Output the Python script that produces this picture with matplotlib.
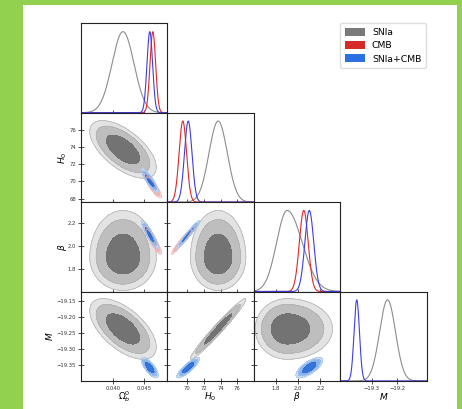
import numpy as np
import matplotlib.pyplot as plt
from matplotlib.patches import Rectangle, Patch

# parameters: Omega_b^0, H0, beta, M
labels = [r'$\Omega_b^0$', r'$H_0$', r'$\beta$', r'$M$']
pairs = [(0, 1), (0, 2), (0, 3), (1, 2), (1, 3), (2, 3)]

# SNIa (beta is skewed: lower / upper widths)
snia_mean = [0.0416, 73.70, 1.90, -19.238]
snia_lo = [0.0018, 1.10, 0.095, 0.031]
snia_hi = [0.0018, 1.10, 0.135, 0.031]
snia_rho = [-0.62, 0.0, -0.60, 0.0, 0.975, 0.0]

# CMB (no constraint on M)
cmb_mean = [0.0465, 69.45, 2.05, None]
cmb_sigma = [0.00046, 0.45, 0.040, None]
cmb_rho = [-0.88, -0.90, None, 0.97, None, None]

# SNIa+CMB
both_mean = [0.0460, 70.10, 2.10, -19.358]
both_sigma = [0.00046, 0.45, 0.040, 0.0105]
both_rho = [-0.88, -0.90, -0.75, 0.97, 0.86, 0.72]

names = ['SNIa', 'CMB', 'SNIa+CMB']

# axis ranges and ticks
col_lims = [(0.0347, 0.0489), (67.6, 78.0), (1.60, 2.38), (-19.422, -19.085)]
row_lims = [None, (67.6, 77.95), (1.603, 2.383), (-19.399, -19.122)]
col_ticks = [[0.040, 0.045], [70, 72, 74, 76], [1.8, 2.0, 2.2], [-19.3, -19.2]]
col_ticklabels = [['0.040', '0.045'], ['70', '72', '74', '76'],
                  ['1.8', '2.0', '2.2'], ['\u221219.3', '\u221219.2']]
row_ticks = [None, [68, 70, 72, 74, 76], [1.8, 2.0, 2.2],
             [-19.35, -19.30, -19.25, -19.20, -19.15]]
row_ticklabels = [None, ['68', '70', '72', '74', '76'], ['1.8', '2.0', '2.2'],
                  ['\u221219.35', '\u221219.30', '\u221219.25', '\u221219.20', '\u221219.15']]


def dens1d(x, m, lo, hi):
    s = np.where(x < m, lo, hi)
    return np.exp(-0.5 * ((x - m) / s) ** 2)


def dens2d(X, Y, mx, sxl, sxh, my, syl, syh, rho):
    u = (X - mx) / np.where(X < mx, sxl, sxh)
    v = (Y - my) / np.where(Y < my, syl, syh)
    return np.exp(-0.5 * (u * u - 2 * rho * u * v + v * v) / (1 - rho * rho))


chains = [
    dict(mean=snia_mean, lo=snia_lo, hi=snia_hi, rho=snia_rho,
         fills=['#e3e3e3', '#bebebe', '#737373'], edge='#b0b0b0',
         line='#8c8c8c', alpha=1.0, patch='#7a7a7a'),
    dict(mean=cmb_mean, lo=cmb_sigma, hi=cmb_sigma, rho=cmb_rho,
         fills=['#f8d6d6', '#f1abab', '#e67474'], edge='#f0b8b8',
         line='#e02828', alpha=0.9, patch='#d62a2a'),
    dict(mean=both_mean, lo=both_sigma, hi=both_sigma, rho=both_rho,
         fills=['#c8dcf5', '#84b0ea', '#2a6fd6'], edge='#a4c4ee',
         line='#3d3de6', alpha=0.95, patch='#2c6fe0'),
]

levels = [0.01, 0.05, 0.32, 1.5]

W, H = 462, 409
fig = plt.figure(figsize=(W / 100, H / 100), dpi=100, facecolor='#92d050')
fig.patches.append(Rectangle((23 / W, 0), 434 / W, 404 / H, transform=fig.transFigure,
                             facecolor='white', edgecolor='none', zorder=-5))

pw, ph = 86.45, 89.4
x0, y0 = 81.0, 23.3

for i in range(4):
    for j in range(i + 1):
        ax = fig.add_axes([(x0 + j * pw) / W, 1 - (y0 + (i + 1) * ph) / H, pw / W, ph / H])
        xs = np.linspace(*col_lims[j], 400)
        if i == j:
            for c in chains:
                if c['mean'][j] is None:
                    continue
                ax.plot(xs, dens1d(xs, c['mean'][j], c['lo'][j], c['hi'][j]),
                        color=c['line'], lw=0.8)
            ax.set_ylim(0, 1.103)
            ax.set_yticks([])
        else:
            ys = np.linspace(*row_lims[i], 400)
            X, Y = np.meshgrid(xs, ys)
            k = pairs.index((j, i))
            for c in chains:
                if c['mean'][j] is None or c['mean'][i] is None:
                    continue
                Z = dens2d(X, Y, c['mean'][j], c['lo'][j], c['hi'][j],
                           c['mean'][i], c['lo'][i], c['hi'][i], c['rho'][k])
                ax.contourf(X, Y, Z, levels=levels, colors=c['fills'], alpha=c['alpha'])
                ax.contour(X, Y, Z, levels=levels[:2], colors=c['edge'], linewidths=0.5)
            ax.set_ylim(*row_lims[i])
            ax.set_yticks(row_ticks[i])
            if j == 0:
                ax.set_yticklabels(row_ticklabels[i])
                ax.set_ylabel(labels[i], fontsize=6.5, rotation=90)
                ax.yaxis.set_label_coords(-0.36 if i == 3 else -0.21, 0.5)
                ax.yaxis.label.set_va('center')
            else:
                ax.set_yticklabels([])
        ax.set_xlim(*col_lims[j])
        ax.set_xticks(col_ticks[j])
        if i == 3:
            ax.set_xticklabels(col_ticklabels[j])
            ax.set_xlabel(labels[j], fontsize=6.5)
            ax.xaxis.set_label_coords(0.5, -0.176)
            ax.xaxis.label.set_va('center')
        else:
            ax.set_xticklabels([])
        ax.tick_params(direction='inout', length=4, width=0.6, labelsize=3.8,
                       pad=1.5, colors='#333333')
        for s in ax.spines.values():
            s.set_linewidth(0.8)
            s.set_color('#222222')

handles = [Patch(facecolor=c['patch'], edgecolor='none') for c in chains]
fig.legend(handles, names, loc='upper right', bbox_to_anchor=(426 / W, 1 - 23.3 / H),
           bbox_transform=fig.transFigure, fontsize=6.7, handlelength=2.1,
           handleheight=0.9, handletextpad=0.8, labelspacing=0.45,
           borderaxespad=0, borderpad=0.5, frameon=True, edgecolor='#dddddd',
           fancybox=True, framealpha=1)

fig.savefig('out.png', dpi=100, facecolor=fig.get_facecolor())
